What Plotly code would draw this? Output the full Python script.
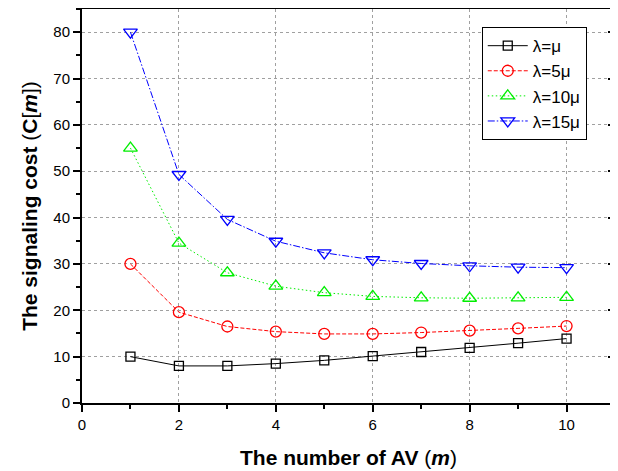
import plotly.graph_objects as go

m = [1, 2, 3, 4, 5, 6, 7, 8, 9, 10]
c_mu = [10, 8, 8, 8.5, 9.2, 10.1, 11.0, 11.9, 12.9, 13.9]
c_5mu = [30, 19.6, 16.5, 15.4, 14.9, 14.9, 15.2, 15.6, 16.1, 16.6]
c_10mu = [55, 34.5, 28.1, 25.2, 23.8, 23.0, 22.7, 22.6, 22.7, 22.8]
c_15mu = [80, 49.3, 39.6, 34.9, 32.4, 30.9, 30.1, 29.6, 29.3, 29.2]

names = ["λ=μ", "λ=5μ", "λ=10μ", "λ=15μ"]
series = [c_mu, c_5mu, c_10mu, c_15mu]
colors = ["#000000", "#FF0000", "#00EE00", "#0000FF"]
dashes = ["solid", "4px,2px", "1.5px,2.5px", "7px,2px,1.5px,2px"]
symbols = ["square-open", "circle-open", "triangle-up-open", "triangle-down-open"]
sizes = [9, 11, 12, 12]

fig = go.Figure()
for n, s, c, d, sym, sz in zip(names, series, colors, dashes, symbols, sizes):
    fig.add_trace(go.Scatter(
        x=m, y=s, name=n, mode="lines+markers",
        line=dict(color=c, width=1, dash=d),
        marker=dict(symbol=sym, size=sz, color=c, line=dict(width=1.3, color=c)),
    ))

# invisible trace for right-side inward ticks
fig.add_trace(go.Scatter(x=[None], y=[None], yaxis="y2", showlegend=False, hoverinfo="skip"))

P = "<span style='font-weight:normal'>{}</span>"
xtitle = "The number of AV " + P.format("(") + "<i>m</i>" + P.format(")")
ytitle = "The signaling cost " + P.format("(") + "C" + P.format("[") + "<i>m</i>" + P.format("]") + P.format(")")

tickfont = dict(family="Liberation Sans, Arial", size=15, color="black")
titlefont = dict(family="Liberation Sans, Arial", size=21, color="black", weight="bold")
fig.update_layout(
    width=618, height=471,
    margin=dict(l=74, r=11, t=1, b=76),
    plot_bgcolor="white", paper_bgcolor="white",
    showlegend=True,
    legend=dict(
        x=0.75, y=0.954, xanchor="left", yanchor="top",
        bgcolor="white", bordercolor="black", borderwidth=1,
        font=dict(family="Liberation Sans, Arial", size=17, color="black"),
        tracegroupgap=0, itemwidth=40,
    ),
    xaxis=dict(
        range=[0, 11], dtick=2, tick0=0, automargin=False,
        showline=True, linecolor="black", linewidth=2, mirror=True,
        ticks="outside", ticklen=7, tickwidth=1.5, tickcolor="black",
        minor=dict(dtick=1, ticks="outside", ticklen=4, tickwidth=1.5, tickcolor="black", showgrid=False),
        showgrid=True, gridcolor="#A0A0A0", griddash="dot", gridwidth=1,
        zeroline=False, tickfont=tickfont,
        title=dict(text=xtitle, font=titlefont, standoff=18),
    ),
    yaxis=dict(
        range=[0, 85], dtick=10, tick0=0, automargin=False,
        showline=True, linecolor="black", linewidth=2, mirror=True,
        ticks="outside", ticklen=7, tickwidth=1.5, tickcolor="black",
        minor=dict(dtick=5, ticks="outside", ticklen=4, tickwidth=1.5, tickcolor="black", showgrid=False),
        showgrid=True, gridcolor="#A0A0A0", griddash="dot", gridwidth=1,
        zeroline=False, tickfont=tickfont,
        title=dict(text=ytitle, font=titlefont, standoff=10),
    ),
    yaxis2=dict(
        range=[0, 85], dtick=10, tick0=0, overlaying="y", side="right", automargin=False,
        showline=False, showgrid=False, zeroline=False, showticklabels=False,
        ticks="inside", ticklen=7, tickwidth=1.5, tickcolor="black",
        minor=dict(dtick=5, ticks="inside", ticklen=4, tickwidth=1.5, tickcolor="black"),
    ),
)

fig.write_html("out.html")
